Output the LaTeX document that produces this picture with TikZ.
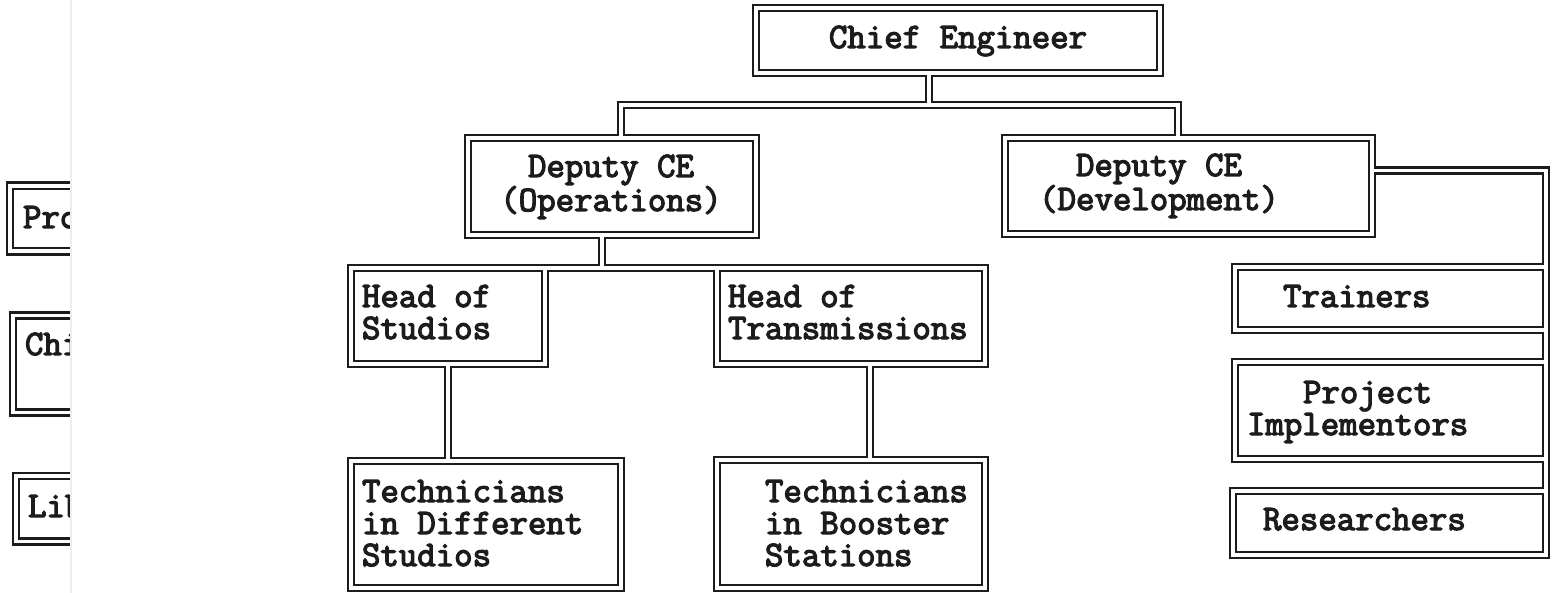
\documentclass[tikz,border=0pt]{standalone}
\usepackage{fontspec}
\newfontfamily\orgfont{Latin Modern Mono}[FakeBold=3.5]
\definecolor{ink}{HTML}{1C1C1C}

% every frame and connector is stroked twice: a wide dark pass, then a
% narrow white pass, so that joined paths read as one continuous double rule
\newcommand\orgframes{%
  \draw (ce.north west) rectangle (ce.south east);
  \draw (dops.north west) rectangle (dops.south east);
  \draw (ddev.north west) rectangle (ddev.south east);
  \draw (hstu.north west) rectangle (hstu.south east);
  \draw (htra.north west) rectangle (htra.south east);
  \draw (tstu.north west) rectangle (tstu.south east);
  \draw (tboo.north west) rectangle (tboo.south east);
  \draw (trn.north west) rectangle (trn.south east);
  \draw (prj.north west) rectangle (prj.south east);
  \draw (res.north west) rectangle (res.south east);
  % chief engineer to both deputies
  \draw (ce.south -| jce) -- (jce);
  \draw (dops.north -| jl) -- (jl) -- (jr) -- (ddev.north -| jr);
  % operations branch
  \draw (dops.south -| jops) -- (jops);
  \draw (hstu.north east) -- (htra.north west);
  \draw (hstu.south) -- (hstu.south |- tstu.north);
  \draw (htra.south -| jtra) -- (tboo.north -| jtra);
  % development branch
  \draw (ddev.east |- jdev) -- (jdev) -- (res.south east);
}
\newcommand\sideframes{%
  \draw (s1.north west) rectangle (s1.south east);
  \draw (s2.north west) rectangle (s2.south east);
  \draw (s3.north west) rectangle (s3.south east);
}

\begin{document}
\begin{tikzpicture}[x=1pt,y=-1pt,
  frame/.style 2 args={rectangle, draw=none, inner sep=0pt, outer sep=0pt,
    minimum width=#1pt, minimum height=#2pt},
  lbl/.style={font=\orgfont\fontsize{35.8}{32}\selectfont,
    inner sep=0pt, outer sep=0pt, text=ink},
  thickpass/.style={color=ink, line width=8.6pt},
  thinpass/.style={color=white, line width=3.8pt}]
\useasboundingbox[fill=white] (0,0) rectangle (1557,593);

% frames
\node[frame={404}{65}]  (ce)   at (958,40.5) {};
\node[frame={288}{97}]  (dops) at (612,186.5) {};
\node[frame={367}{96}]  (ddev) at (1188.5,186) {};
\node[frame={194}{96}]  (hstu) at (448,316) {};
\node[frame={268}{96}]  (htra) at (851,316) {};
\node[frame={270}{127}] (tstu) at (486,524.5) {};
\node[frame={268}{128}] (tboo) at (851,524) {};
\node[frame={311}{63}]  (trn)  at (1390.5,298.5) {};
\node[frame={311}{97}]  (prj)  at (1390.5,410.5) {};
\node[frame={313}{64}]  (res)  at (1389.5,523) {};

% bends of the connectors
\coordinate (jce)  at (929,105);
\coordinate (jl)   at (621,105);
\coordinate (jr)   at (1178,105);
\coordinate (jops) at (602,268);
\coordinate (jtra) at (870,412);
\coordinate (jdev) at (1546,170.5);

\begin{scope}[thickpass] \orgframes \end{scope}
\begin{scope}[thinpass]  \orgframes \end{scope}

% frames running off the left edge of the page
\begin{scope}
  \clip (0,0) rectangle (70,593);
  \node[frame={300}{65.5}] (s1) at (160,218.5) {};
  \node[frame={300}{97}]   (s2) at (163,364) {};
  \node[frame={300}{65.5}] (s3) at (166,508.75) {};
  \begin{scope}[thickpass] \sideframes \end{scope}
  \begin{scope}[thinpass]  \sideframes \end{scope}
  \node[lbl, anchor=base west] (s1-t) at (23,228) {Pro};
  \node[lbl, anchor=base west] (s2-t) at (25,355) {Chi};
  \node[lbl, anchor=base west] (s3-t) at (28,517) {Lib};
\end{scope}
\coordinate (edgetop) at (71,0);
\coordinate (edgebot) at (71,593);
\draw[black!7, line width=1.2pt] (edgetop) -- (edgebot);

% labels (a multi-line label sits on the baseline of its last line)
\node[lbl, anchor=base] (ce-t) at (958,48) {Chief Engineer};
\node[lbl, align=center, anchor=base] (dops-t) at (611,211) {Deputy CE\\(Operations)};
\node[lbl, align=center, anchor=base] (ddev-t) at (1159,210) {Deputy CE\\(Development)};
\node[lbl, align=left, anchor=base west] (hstu-t) at (362,339) {Head of\\Studios};
\node[lbl, align=left, anchor=base west] (htra-t) at (728,339) {Head of\\Transmissions};
\node[lbl, align=left, anchor=base west] (tstu-t) at (362,566) {Technicians\\in Different\\Studios};
\node[lbl, align=left, anchor=base west] (tboo-t) at (765,566) {Technicians\\in Booster\\Stations};
\node[lbl, anchor=base west] (trn-t) at (1283,307) {Trainers};
\node[lbl, align=left, anchor=base west] (prj-t) at (1247,435) {\hspace*{56pt}Project\\Implementors};
\node[lbl, anchor=base west] (res-t) at (1263,530) {Researchers};
\end{tikzpicture}
\end{document}
